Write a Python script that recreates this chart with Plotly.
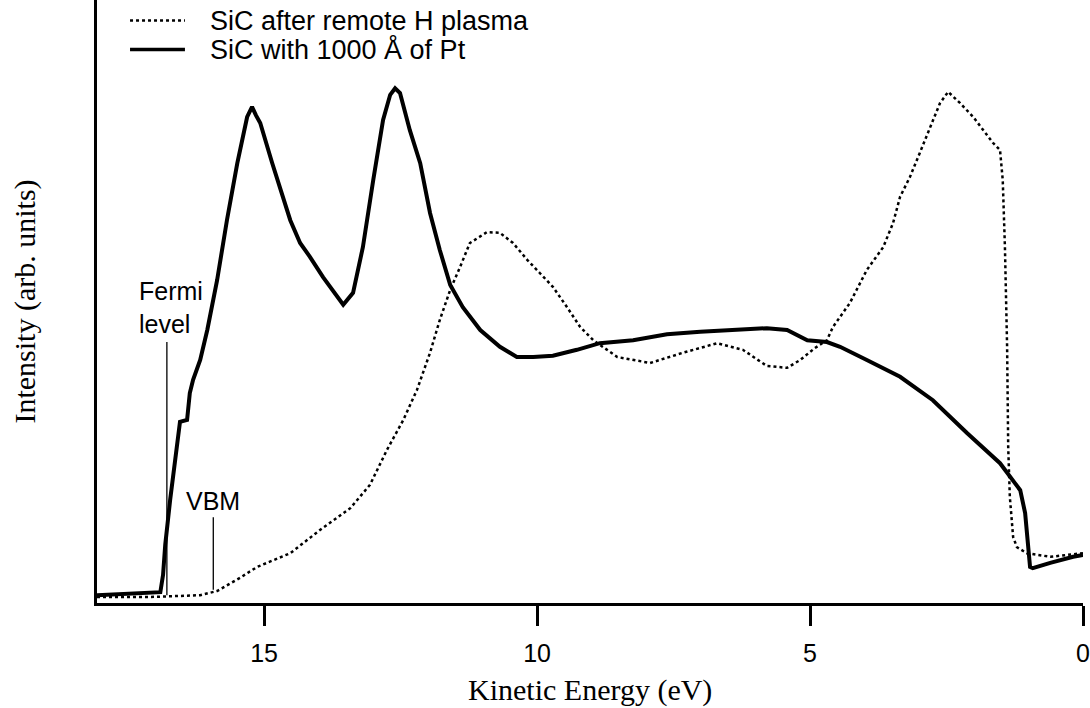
import plotly.graph_objects as go

# Kinetic energy (eV) and intensity (arb. units)
pt_energy = [18.06, 17.45, 17.00, 16.90, 16.85, 16.81, 16.72, 16.59, 16.54, 16.41,
             16.36, 16.30, 16.17, 16.04, 15.86, 15.68, 15.49, 15.31, 15.22, 15.15,
             15.07, 14.85, 14.71, 14.52, 14.34, 14.16, 13.92, 13.66, 13.55, 13.37,
             13.19, 13.00, 12.82, 12.69, 12.60, 12.51, 12.33, 12.14, 11.96, 11.78,
             11.59, 11.36, 11.04, 10.68, 10.37, 10.07, 9.71, 9.27, 8.85, 8.24,
             7.62, 7.01, 6.41, 5.79, 5.42, 5.05, 4.69, 4.45, 3.96, 3.35,
             2.75, 2.12, 1.52, 1.28, 1.15, 1.06, 1.01, 0.97, 0.92, 0.60,
             0.18, 0.00]
pt_intensity = [1.3, 1.5, 1.7, 1.8, 4.7, 9.7, 17.2, 26.0, 30.2, 30.5,
                35.0, 37.2, 40.5, 45.5, 53.8, 63.8, 73.3, 81.0, 82.7, 81.3,
                80.0, 73.3, 69.3, 63.8, 60.0, 57.7, 54.3, 51.0, 49.7, 51.7,
                59.3, 70.5, 80.5, 84.7, 85.8, 85.0, 78.8, 73.3, 65.0, 58.8,
                53.0, 49.3, 45.5, 42.7, 41.0, 41.0, 41.2, 42.2, 43.3, 43.8,
                44.8, 45.2, 45.5, 45.8, 45.5, 43.8, 43.5, 42.7, 40.5, 37.7,
                33.8, 28.3, 23.3, 20.5, 18.8, 15.0, 9.3, 6.0, 5.8, 6.7,
                7.7, 8.0]

h_energy = [18.06, 17.09, 16.17, 15.86, 15.44, 15.13, 14.52, 13.97, 13.42, 13.06,
            12.75, 12.45, 12.20, 11.96, 11.78, 11.59, 11.41, 11.23, 10.92, 10.68,
            10.44, 10.18, 9.95, 9.71, 9.45, 9.21, 8.97, 8.53, 7.93, 7.33,
            6.70, 6.23, 5.79, 5.42, 5.18, 4.91, 4.69, 4.58, 4.27, 3.96,
            3.66, 3.48, 3.35, 3.17, 2.99, 2.80, 2.62, 2.47, 2.25, 2.01,
            1.83, 1.65, 1.52, 1.47, 1.43, 1.39, 1.37, 1.34, 1.28, 1.21,
            1.03, 0.60, 0.00]
h_intensity = [1.0, 1.0, 1.3, 2.0, 4.2, 6.0, 8.3, 12.2, 15.8, 19.7,
               25.5, 30.5, 35.5, 41.7, 47.2, 52.2, 56.0, 60.0, 61.8, 61.7,
               60.0, 57.2, 55.0, 52.7, 49.3, 46.0, 43.8, 41.0, 40.0, 41.7,
               43.3, 42.2, 39.5, 39.2, 40.5, 42.5, 43.8, 46.0, 50.0, 55.5,
               59.3, 63.3, 67.7, 71.0, 75.0, 79.3, 83.3, 85.2, 83.3, 81.0,
               78.8, 76.7, 75.5, 70.5, 59.3, 42.7, 26.0, 17.7, 11.0, 9.3,
               8.3, 7.7, 8.3]

x_tick_values = [15, 10, 5, 0]
x_tick_labels = ["15", "10", "5", "0"]

fermi_energy = 16.78
fermi_marker = [1.3, 43.5]
vbm_energy = 15.93
vbm_marker = [2.2, 14.3]

series_names = ["SiC after remote H plasma", "SiC with 1000 \u00c5 of Pt"]
series_dash = ["dot", "solid"]
series_width = [2.5, 4]

fig = go.Figure()
fig.add_trace(go.Scatter(x=h_energy, y=h_intensity, mode="lines", name=series_names[0],
                         showlegend=False,
                         line=dict(color="black", width=series_width[0], dash=series_dash[0])))
fig.add_trace(go.Scatter(x=pt_energy, y=pt_intensity, mode="lines", name=series_names[1],
                         showlegend=False,
                         line=dict(color="black", width=series_width[1], dash=series_dash[1])))

# Fermi level and VBM marker lines
fig.add_trace(go.Scatter(x=[fermi_energy, fermi_energy], y=fermi_marker, mode="lines",
                         showlegend=False, line=dict(color="black", width=1.3)))
fig.add_trace(go.Scatter(x=[vbm_energy, vbm_energy], y=vbm_marker, mode="lines",
                         showlegend=False, line=dict(color="black", width=1.3)))

label_font = dict(family="Liberation Sans, Arial, sans-serif", size=25, color="black")
legend_font = dict(family="Liberation Sans, Arial, sans-serif", size=27, color="black")

fig.add_annotation(x=17.33, y=49.3, xref="x", yref="y", text="Fermi<br>level",
                   showarrow=False, xanchor="left", yanchor="middle", align="left",
                   font=label_font)
fig.add_annotation(x=vbm_energy, y=17.0, xref="x", yref="y", text="VBM",
                   showarrow=False, xanchor="center", yanchor="middle", font=label_font)

# Legend (drawn as a key in the top-left corner)
legend_rows_y = [0.966, 0.918]
for name, dash, width, ry in zip(series_names, series_dash, series_width, legend_rows_y):
    fig.add_shape(type="line", xref="paper", yref="paper", x0=0.0335, x1=0.0892,
                  y0=ry, y1=ry, line=dict(color="black", width=width - 0.5 if dash == "solid" else width,
                                          dash=dash))
    fig.add_annotation(x=0.1126, y=ry, xref="paper", yref="paper", text=name,
                       showarrow=False, xanchor="left", yanchor="middle", font=legend_font)

title_font = dict(family="Liberation Serif, Times New Roman, serif", size=30, color="black")
fig.add_annotation(x=0.5, y=-0.145, xref="paper", yref="paper", text="Kinetic Energy (eV)",
                   showarrow=False, xanchor="center", yanchor="middle", font=title_font)
fig.add_annotation(x=-0.074, y=0.5, xref="paper", yref="paper", text="Intensity (arb. units)",
                   showarrow=False, xanchor="center", yanchor="middle", textangle=-90,
                   font=title_font)

fig.update_layout(
    width=1090, height=708,
    margin=dict(l=97, r=7, t=0, b=105),
    paper_bgcolor="white", plot_bgcolor="white",
    showlegend=False,
    xaxis=dict(range=[18.06, 0], showgrid=False, zeroline=False,
               showline=True, linecolor="black", linewidth=3,
               ticks="outside", ticklen=20, tickwidth=2.5, tickcolor="black",
               tickvals=x_tick_values, ticktext=x_tick_labels,
               tickfont=label_font, ticklabelstandoff=6),
    yaxis=dict(range=[0, 100.5], showgrid=False, zeroline=False,
               showline=True, linecolor="black", linewidth=3,
               ticks="", showticklabels=False),
)

fig.write_html("out.html")
